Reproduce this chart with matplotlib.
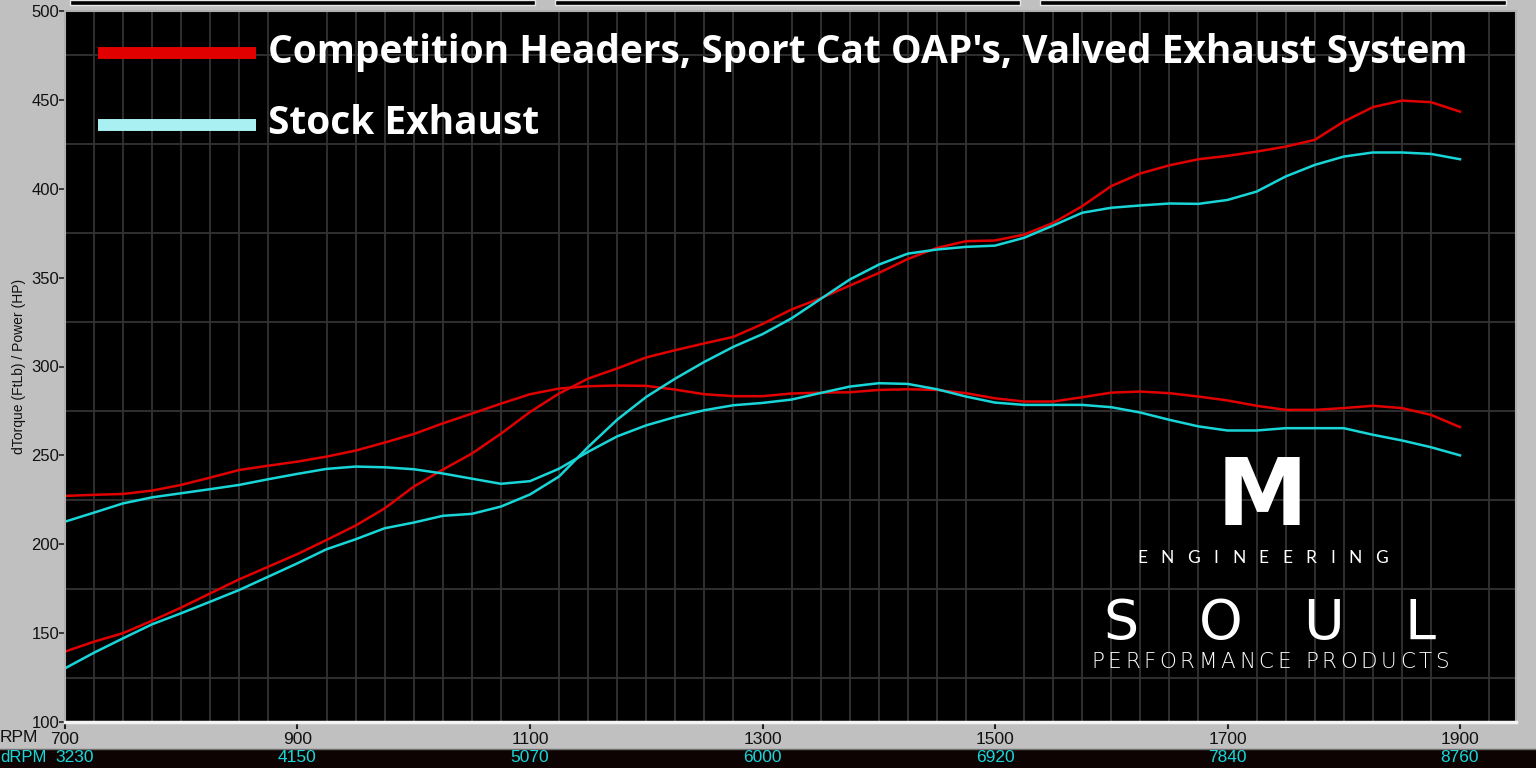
import matplotlib
matplotlib.use("Agg")
import matplotlib.pyplot as plt
from matplotlib.patches import Rectangle
from matplotlib.lines import Line2D
import matplotlib.transforms as mtransforms

# dyno run, sampled every 25 rpm (drum rpm)
rpm = list(range(700, 1901, 25))

comp_torque = [227.2, 227.8, 228.3, 230.2, 233.4, 237.5, 241.8, 244.2, 246.5, 249.3,
               252.7, 257.2, 262.0, 268.0, 273.5, 279.1, 284.4, 287.6, 288.9, 289.3,
               289.1, 287.0, 284.4, 283.3, 283.3, 284.8, 285.3, 285.5, 286.8, 287.2,
               286.8, 285.0, 282.1, 280.3, 280.3, 282.7, 285.3, 285.9, 285.0, 283.1,
               280.9, 277.9, 275.6, 275.6, 276.6, 277.9, 276.6, 272.8, 265.9]
comp_power = [139.6, 145.2, 150.0, 157.0, 164.4, 172.4, 180.3, 187.4, 194.5, 202.4,
              210.5, 220.2, 232.4, 242.0, 251.0, 262.2, 274.4, 284.8, 293.2, 298.9,
              305.1, 309.2, 313.0, 316.7, 323.9, 332.1, 338.4, 345.5, 352.6, 360.5,
              366.7, 370.5, 370.9, 374.2, 380.8, 390.2, 401.5, 408.6, 413.2, 416.6,
              418.5, 420.9, 423.7, 427.5, 437.8, 445.9, 449.6, 448.7, 443.4]
stock_torque = [212.7, 217.8, 223.0, 226.4, 228.7, 231.0, 233.4, 236.6, 239.6, 242.4,
                243.7, 243.3, 242.2, 239.8, 236.9, 234.0, 235.5, 242.5, 252.0, 260.7,
                266.9, 271.6, 275.4, 278.2, 279.5, 281.4, 285.1, 288.7, 290.6, 290.2,
                287.2, 283.1, 279.7, 278.4, 278.4, 278.4, 277.1, 274.1, 270.0, 266.3,
                264.0, 264.0, 265.3, 265.3, 265.3, 261.6, 258.4, 254.6, 250.0]
stock_power = [130.2, 139.0, 147.1, 155.0, 161.2, 167.7, 174.3, 181.8, 189.3, 197.2,
               202.8, 209.0, 212.2, 216.0, 217.1, 221.2, 228.0, 238.1, 254.7, 270.1,
               282.9, 293.2, 302.6, 311.1, 318.2, 327.1, 338.0, 348.9, 357.3, 363.5,
               365.8, 367.3, 368.0, 372.4, 379.3, 386.5, 389.3, 390.6, 391.7, 391.5,
               393.7, 398.4, 406.9, 413.4, 418.1, 420.4, 420.4, 419.6, 416.6]

rpm_ticks = [700, 900, 1100, 1300, 1500, 1700, 1900]
drpm_labels = ["3230", "4150", "5070", "6000", "6920", "7840", "8760"]
y_ticks = [100, 150, 200, 250, 300, 350, 400, 450, 500]

legend_labels = ["Competition Headers, Sport Cat OAP's, Valved Exhaust System",
                 "Stock Exhaust"]

RED = "#e00000"
CYAN = "#18d6d8"
W, H = 1536, 768


def fx(x):
    return x / W


def fy(y):
    return 1 - y / H


fig = plt.figure(figsize=(15.36, 7.68), dpi=100, facecolor="#c0c0c0")
renderer = fig.canvas.get_renderer()


def tracked(text, x0, x1, y, **kw):
    # spread letters so the word fills x0..x1 (letter spacing)
    widths = []
    for ch in text:
        if ch == " ":
            widths.append(kw["fontsize"] * 0.45)
            continue
        t = fig.text(0, 0, ch, **kw)
        widths.append(t.get_window_extent(renderer).width)
        t.remove()
    gap = (x1 - x0 - sum(widths)) / (len(text) - 1)
    x = x0
    for ch, w in zip(text, widths):
        if ch != " ":
            fig.text(fx(x), fy(y), ch, ha="left", va="center", **kw)
        x += w + gap


# top strip with the three black boxes of the dyno software
for x0, x1 in [(70, 535), (555, 1020), (1040, 1506)]:
    fig.patches.append(Rectangle((fx(x0), fy(5)), fx(x1 - x0), 5 / H,
                                 transform=fig.transFigure, facecolor="black",
                                 edgecolor="#e8e8e8", lw=1))

# dark band for dRPM row
fig.patches.append(Rectangle((0, 0), 1, 19 / H, transform=fig.transFigure,
                             facecolor="#0e0303", edgecolor="none"))
fig.add_artist(Line2D([0, 1], [fy(749), fy(749)], transform=fig.transFigure,
                      color="#707070", lw=1))

ax = fig.add_axes([fx(65), fy(722), fx(1516 - 65), (722 - 11) / H])
ax.set_facecolor("black")
ax.set_xlim(700, 700 + (1516 - 65) / 1.1625)
ax.set_ylim(100, 500)

ax.set_xticks(range(700, 1950, 25), minor=True)
ax.set_yticks(range(100, 501, 25), minor=True)
ax.grid(which="minor", color="#323232", lw=1.3)
ax.set_axisbelow(True)

ax.plot(rpm, comp_torque, color=RED, lw=1.8)
ax.plot(rpm, comp_power, color=RED, lw=1.8)
ax.plot(rpm, stock_torque, color=CYAN, lw=1.8)
ax.plot(rpm, stock_power, color=CYAN, lw=1.8)

for s in ax.spines.values():
    s.set_color("#b0b0b0")
    s.set_linewidth(1.5)
ax.spines["bottom"].set_color("#f4f4f4")
ax.spines["bottom"].set_linewidth(2.5)

ax.set_yticks(y_ticks)
ax.set_yticklabels([str(v) for v in y_ticks], fontsize=12, color="#111111",
                   family="Liberation Sans")
ax.tick_params(axis="y", which="major", direction="out", length=4, width=1.2,
               color="#222222", pad=0)
ax.set_xticks(rpm_ticks)
ax.set_xticklabels([str(v) for v in rpm_ticks], fontsize=12.5, color="#111111",
                   family="Liberation Sans")
ax.tick_params(axis="x", which="major", direction="out", length=5, width=1.5,
               color="#222222", pad=2)
ax.tick_params(which="minor", length=0)

ax.set_ylabel("dTorque (FtLb) / Power (HP)", fontsize=10, family="Liberation Sans",
              color="#111111", labelpad=4)

fig.text(fx(0), fy(738), "RPM", fontsize=12.5, family="Liberation Sans",
         color="#111111", va="center", ha="left")
fig.text(fx(0), fy(758), "dRPM", fontsize=12, family="Liberation Sans",
         color=CYAN, va="center", ha="left")
trans = mtransforms.blended_transform_factory(ax.transData, fig.transFigure)
for i, (r, lab) in enumerate(zip(rpm_ticks, drpm_labels)):
    xr = r + (8 if i == 0 else 0)
    fig.text(xr, fy(758), lab, transform=trans, fontsize=12.5,
             family="Liberation Sans", color=CYAN, va="center", ha="center")

# legend
for yy, col, lab in [(53, RED, legend_labels[0]), (124.5, "#a8f0f2", legend_labels[1])]:
    fig.add_artist(Line2D([fx(98), fx(256)], [fy(yy), fy(yy)], transform=fig.transFigure,
                          color=col, lw=8.6, solid_capstyle="butt"))
    fig.text(fx(268), fy(yy - 1), lab, fontsize=28, family="Open Sans",
             fontweight="bold", color="white", va="center", ha="left")

# logo
fig.text(fx(1262), fy(499), "M", fontsize=66, family="DejaVu Sans", fontweight="heavy",
         color="white", ha="center", va="center")
tracked("ENGINEERING", 1137, 1388, 558, fontsize=12.5, family="Lato", color="white")
tracked("SOUL", 1103, 1435, 624, fontsize=40, family="DejaVu Sans", color="white")
tracked("PERFORMANCE PRODUCTS", 1091, 1449, 662, fontsize=15.5, family="DejaVu Sans",
        fontweight="light", color="white")

fig.savefig("out.png", dpi=100, facecolor=fig.get_facecolor())
